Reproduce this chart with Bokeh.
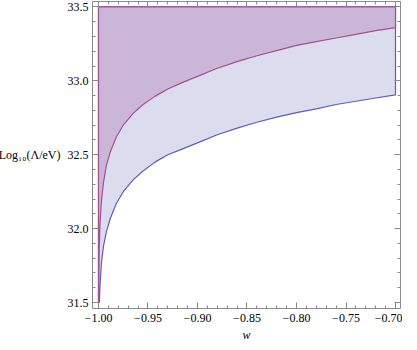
from bokeh.plotting import figure
from bokeh.models import (Range1d, LinearAxis, FixedTicker, CustomJSTickFormatter)
from bokeh.embed import file_html
from bokeh.resources import INLINE

# ---- data ----
w_lo, w_hi = -1.0, -0.7
lam_lo, lam_hi = 31.5, 33.5

w_red = [-0.99983, -0.9997, -0.9993, -0.9985, -0.997, -0.995, -0.992, -0.988,
         -0.982, -0.975, -0.965, -0.955, -0.943, -0.93, -0.915, -0.9, -0.88, -0.86,
         -0.84, -0.82, -0.8, -0.78, -0.76, -0.74, -0.72, -0.7]
lam_red = [31.50, 31.64, 31.845, 32.03, 32.19, 32.31, 32.43, 32.52,
           32.62, 32.70, 32.78, 32.84, 32.895, 32.945, 32.99, 33.03, 33.085, 33.13,
           33.17, 33.205, 33.24, 33.265, 33.29, 33.315, 33.34, 33.36]

w_blue = [-0.9991, -0.9985, -0.997, -0.995, -0.992, -0.988, -0.982, -0.975, -0.965,
          -0.955, -0.943, -0.93, -0.915, -0.9, -0.88, -0.86, -0.84, -0.82, -0.8,
          -0.78, -0.76, -0.74, -0.72, -0.7]
lam_blue = [31.50, 31.61, 31.77, 31.88, 31.98, 32.07, 32.17, 32.25, 32.33,
            32.39, 32.45, 32.50, 32.54, 32.58, 32.635, 32.68, 32.72, 32.755, 32.785,
            32.81, 32.84, 32.862, 32.884, 32.905]

x_ticks = [-1.0, -0.95, -0.9, -0.85, -0.8, -0.75, -0.7]
x_tick_labels = ["\u22121.00", "\u22120.95", "\u22120.90", "\u22120.85", "\u22120.80", "\u22120.75", "\u22120.70"]
x_minor = [round(-1.0 + 0.01 * i, 2) for i in range(31)]
y_ticks = [31.5, 32.0, 32.5, 33.0, 33.5]
y_tick_labels = ["31.5", "32.0", "32.5", "33.0", "33.5"]
y_minor = [round(31.5 + 0.1 * i, 1) for i in range(21)]

x_label = "w"
y_label = "Log\u2081\u2080(\u039b/eV)"

FONT = "Liberation Serif"
AXIS_COL = "#8a8a8a"

X0, X1 = -1.00606, -0.69495

p = figure(output_backend="svg", toolbar_location=None,
           frame_width=308, frame_height=307,
           x_range=Range1d(X0, X1), y_range=Range1d(31.4595, 33.537),
           min_border_left=99, min_border_right=2, min_border_top=1, min_border_bottom=34,
           x_axis_location=None, y_axis_location=None,
           background_fill_color="white", border_fill_color="white")
p.styles = {"position": "relative", "left": "-7px"}
p.outline_line_color = None
p.xgrid.visible = False
p.ygrid.visible = False

# regions
bx = [w_lo] + w_blue + [w_hi, w_lo]
by = [lam_lo] + lam_blue + [lam_hi, lam_hi]
p.patch(bx, by, fill_color="#dcdcef", line_color="#5c5cc4", line_width=1.2)
rx = [w_lo] + w_red + [w_hi, w_lo]
ry = [lam_lo] + lam_red + [lam_hi, lam_hi]
p.patch(rx, ry, fill_color="#cab6d7", line_color="#a5508e", line_width=1.2)


def fmt(vals, labs):
    return CustomJSTickFormatter(args=dict(vals=vals, labs=labs), code="""
        const i = vals.findIndex(v => Math.abs(v - tick) < 1e-9);
        return i >= 0 ? labs[i] : "";
    """)


def style_axis(ax, show_labels):
    ax.axis_line_color = AXIS_COL
    ax.major_tick_line_color = AXIS_COL
    ax.minor_tick_line_color = AXIS_COL
    ax.major_tick_in = 6
    ax.major_tick_out = 0
    ax.minor_tick_in = 3
    ax.minor_tick_out = 0
    ax.major_label_text_font = FONT
    ax.major_label_text_font_size = "12px" if show_labels else "0px"
    ax.major_label_text_color = "black"
    if not show_labels:
        ax.major_label_standoff = 0


xb = LinearAxis(ticker=FixedTicker(ticks=x_ticks, minor_ticks=x_minor),
                formatter=fmt(x_ticks, x_tick_labels))
style_axis(xb, True)
xb.major_label_standoff = 5
xb.axis_label = x_label
xb.axis_label_text_font = FONT
xb.axis_label_text_font_style = "italic"
xb.axis_label_text_font_size = "12px"
xb.axis_label_text_color = "black"
xb.axis_label_standoff = 3
p.add_layout(xb, "below")

xt = LinearAxis(ticker=FixedTicker(ticks=x_ticks, minor_ticks=x_minor),
                formatter=fmt(x_ticks, ["" for _ in x_ticks]))
style_axis(xt, False)
p.add_layout(xt, "above")

yl = LinearAxis(ticker=FixedTicker(ticks=y_ticks, minor_ticks=y_minor),
                formatter=fmt(y_ticks, y_tick_labels))
style_axis(yl, True)
yl.major_label_standoff = 4
yl.axis_label = y_label
yl.axis_label_orientation = "horizontal"
yl.axis_label_text_font = FONT
yl.axis_label_text_font_style = "normal"
yl.axis_label_text_font_size = "12px"
yl.axis_label_text_color = "black"
yl.axis_label_standoff = 4
p.add_layout(yl, "left")

yr = LinearAxis(ticker=FixedTicker(ticks=y_ticks, minor_ticks=y_minor),
                formatter=fmt(y_ticks, ["" for _ in y_ticks]))
style_axis(yr, False)
p.add_layout(yr, "right")

open("out.html", "w").write(file_html(p, INLINE))
